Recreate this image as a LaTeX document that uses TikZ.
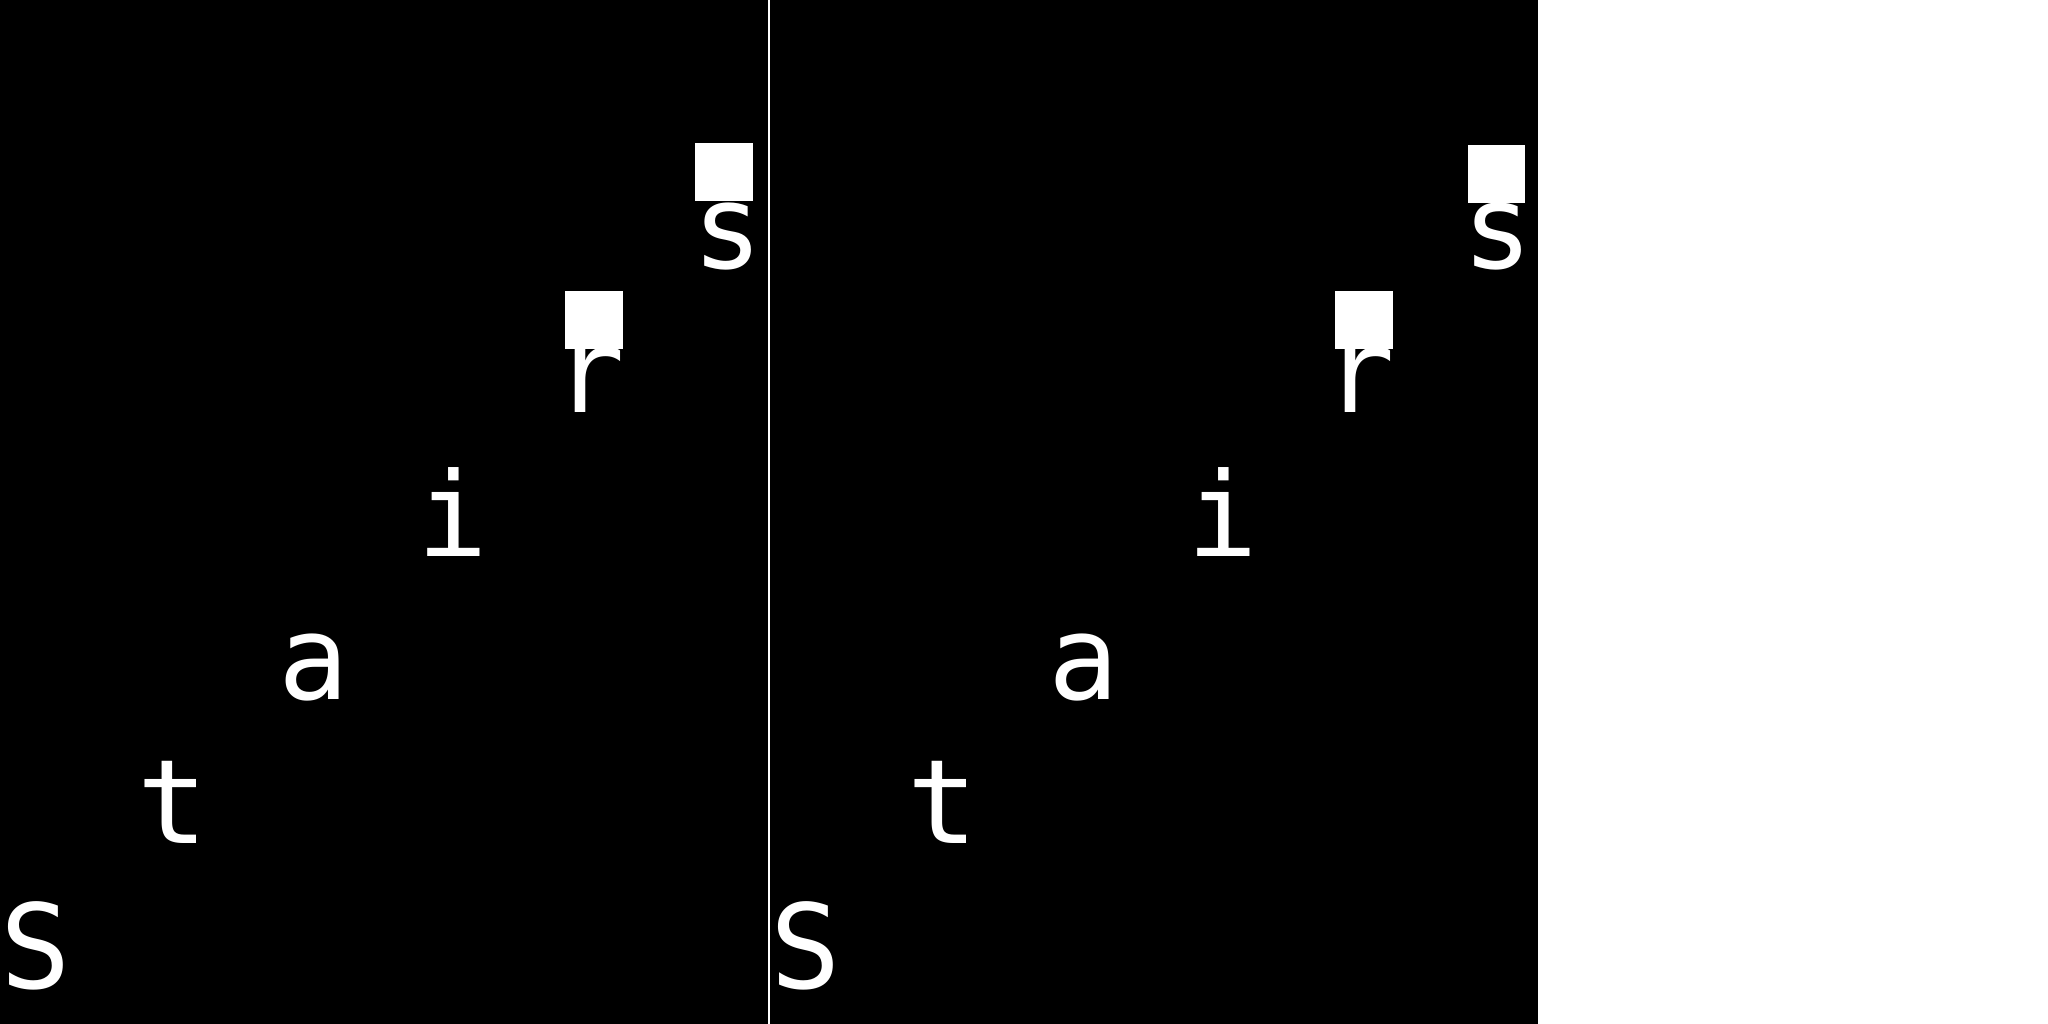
\documentclass[tikz,border=0pt]{standalone}
\usepackage{fontspec}
\newfontfamily\monofont{DejaVu Sans Mono}
\begin{document}
\begin{tikzpicture}[x=0.01cm,y=-0.01cm]
\tikzset{
  letter/.style={text=white, font=\monofont\fontsize{33.3}{40}\selectfont, inner sep=0pt, anchor=base},
  panel/.style={fill=black},
  sq/.style={fill=white, draw=none, inner sep=0pt, minimum size=0.575cm}
}
\useasboundingbox[fill=white] (0,0) rectangle (2048,1024);
% panels
\fill[panel] (0,0) rectangle (767.5,1024);
\fill[panel] (770,0) rectangle (1537.7,1024);
% panel 1
\node[letter] (S1) at (35.8,988.4) {S};
\node[letter] (t1) at (172.5,843) {t};
\node[letter] (a1) at (313.5,699) {a};
\node[letter] (i1) at (452.5,556) {i};
\node[letter] (r1) at (590,412) {r};
\node[letter] (s1) at (727.5,268.5) {s};
\node[sq] (rb1) at (593.8,320.2) {};
\node[sq] (sb1) at (723.8,172) {};
% panel 2
\node[letter] (S2) at (805.8,988.4) {S};
\node[letter] (t2) at (942.5,843) {t};
\node[letter] (a2) at (1083.5,699) {a};
\node[letter] (i2) at (1222.5,556) {i};
\node[letter] (r2) at (1360,412) {r};
\node[letter] (s2) at (1497.5,268.5) {s};
\node[sq] (rb2) at (1364,320) {};
\node[sq] (sb2) at (1496.7,174.2) {};
\end{tikzpicture}
\end{document}
